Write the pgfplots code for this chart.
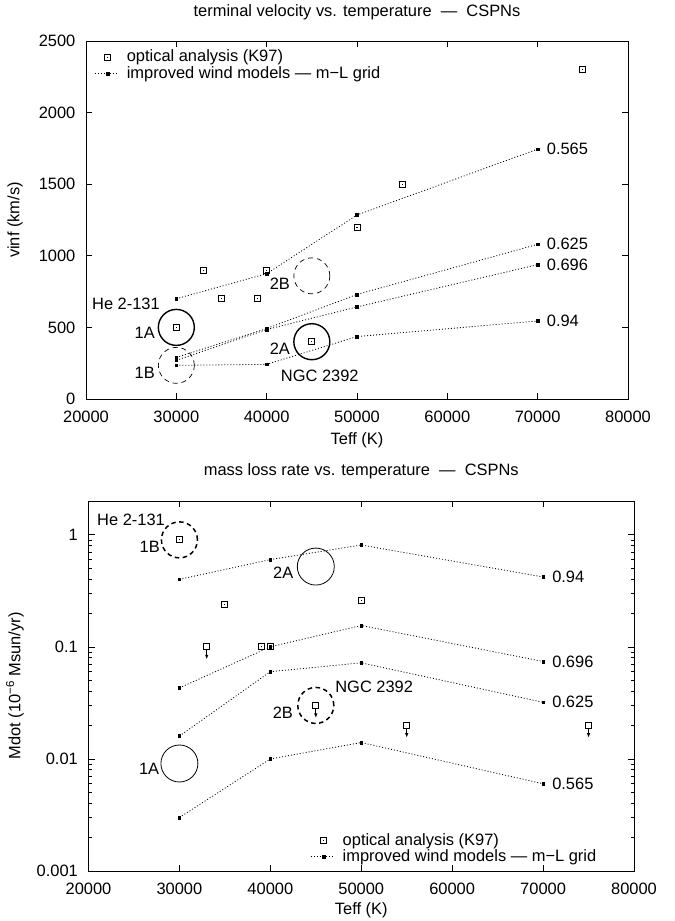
\documentclass[border=0pt]{standalone}
\usepackage{pgfplots}
\pgfplotsset{compat=1.18}
\usepackage{fontspec}
\setmainfont{Liberation Sans}

\pgfdeclareplotmark{sqdot}{%
  \pgfpathrectangle{\pgfpoint{-3bp}{-3bp}}{\pgfpoint{6bp}{6bp}}%
  \pgfusepathqstroke
  \pgfpathrectangle{\pgfpoint{-0.6bp}{-0.6bp}}{\pgfpoint{1.2bp}{1.2bp}}%
  \pgfusepathqfill}
\pgfdeclareplotmark{sqarrow}{%
  \pgfpathrectangle{\pgfpoint{-3bp}{-3bp}}{\pgfpoint{6bp}{6bp}}%
  \pgfusepathqstroke
  \pgfpathmoveto{\pgfpoint{0bp}{-3bp}}\pgfpathlineto{\pgfpoint{0bp}{-9bp}}%
  \pgfusepathqstroke
  \pgfpathmoveto{\pgfpoint{0bp}{-12bp}}\pgfpathlineto{\pgfpoint{-1.6bp}{-8bp}}%
  \pgfpathlineto{\pgfpoint{1.6bp}{-8bp}}\pgfpathclose
  \pgfusepathqfill}

\pgfplotsset{
  myaxis/.style={scale only axis, clip=false,
    xmin=20000, xmax=80000, xtick={20000,30000,40000,50000,60000,70000,80000},
    tick align=inside, major tick length=6bp, minor tick length=3bp,
    axis line style={line width=0.8bp},
    every tick/.style={black, line width=0.6bp},
    scaled x ticks=false, scaled y ticks=false,
    /pgf/number format/assume math mode=true,
    xticklabel style={/pgf/number format/fixed, /pgf/number format/1000 sep={}, yshift=-6bp},
    yticklabel style={/pgf/number format/fixed, /pgf/number format/1000 sep={}, xshift=-5bp},
    xlabel={Teff (K)},
    legend cell align=left,
  },
  model/.style={black, line width=0.8bp, dash pattern=on 1bp off 2bp,
    mark=square*, mark size=1.3bp, mark options={solid, line width=0.5bp},
    legend image code/.code={%
      \path[draw=none, fill=none] (0bp,-2bp) rectangle (32bp,2bp);
      \draw[line width=0.8bp, dash pattern=on 1bp off 2bp] (1bp,0bp) -- (24bp,0bp);
      \draw[line width=0.5bp, solid] plot[only marks, mark=square*, mark size=1.3bp] coordinates {(14bp,0bp)};}},
  opt/.style={only marks, mark=sqdot, mark options={black, solid, line width=0.8bp},
    legend image code/.code={%
      \path[draw=none, fill=none] (0bp,-2bp) rectangle (32bp,2bp);
      \draw[line width=0.8bp, solid] plot[only marks, mark=sqdot] coordinates {(14bp,0bp)};}},
}

\begin{document}
\fontsize{16.5}{19.8}\selectfont
\begin{tikzpicture}
\path[use as bounding box] (0bp,0bp) rectangle (675bp,921bp);

% ---------------- top: terminal velocity ----------------
\begin{axis}[myaxis, at={(86bp,522bp)}, anchor=south west,
  width=542bp, height=358bp,
  ymin=0, ymax=2500, ytick={0,500,1000,1500,2000,2500},
  ylabel={vinf (km/s)},
  ylabel style={at={(axis description cs:-0.131,0.5)}, anchor=center},
  xlabel style={at={(axis description cs:0.5,-0.1145)}, anchor=center},
  title={terminal velocity vs. temperature~~—~~CSPNs},
  title style={at={(axis description cs:0.5,1.064)}, anchor=center},
  legend style={draw=none, fill=none, at={(axis description cs:0.014,0.978)},
    anchor=north west, inner sep=0pt, row sep=0pt, nodes={inner sep=1bp}},
]
\addplot[opt] coordinates {(30000,500) (33000,900) (35000,700) (39000,700) (40000,900)
  (45000,400) (50000,1200) (55000,1500) (75000,2300)};
\addlegendentry{optical analysis (K97)}
\addplot[model] coordinates {(30000,700) (40000,875) (50000,1285) (70000,1745)};
\addlegendentry{improved wind models — m−L grid}
\addplot[model, forget plot] coordinates {(30000,290) (40000,492) (50000,730) (70000,1080)};
\addplot[model, forget plot] coordinates {(30000,270) (40000,485) (50000,643) (70000,938)};
\addplot[model, forget plot] coordinates {(30000,235) (40000,242) (50000,436) (70000,545)};
% highlight circles
\addplot[only marks, forget plot, mark=o, mark size=18bp,
  mark options={black, solid, line width=1.4bp}] coordinates {(30000,500) (45000,400)};
\addplot[only marks, forget plot, mark=o, mark size=18bp,
  mark options={black, line width=0.7bp, dash pattern=on 5bp off 4bp}] coordinates {(30000,235) (45000,860)};
% labels
\node[anchor=east, inner sep=0pt] at (axis cs:28190,666) {He 2-131};
\node[anchor=east, inner sep=0pt] at (axis cs:27640,461) {1A};
\node[anchor=east, inner sep=0pt] at (axis cs:27640,180) {1B};
\node[anchor=east, inner sep=0pt] at (axis cs:42590,808) {2B};
\node[anchor=east, inner sep=0pt] at (axis cs:42590,354) {2A};
\node[anchor=center, inner sep=0pt] at (axis cs:45880,161) {NGC 2392};
\node[anchor=west, inner sep=0pt, xshift=9bp] at (axis cs:70000,1745) {0.565};
\node[anchor=west, inner sep=0pt, xshift=9bp] at (axis cs:70000,1080) {0.625};
\node[anchor=west, inner sep=0pt, xshift=9bp] at (axis cs:70000,938) {0.696};
\node[anchor=west, inner sep=0pt, xshift=9bp] at (axis cs:70000,545) {0.94};
\end{axis}

% ---------------- bottom: mass loss rate ----------------
\begin{axis}[myaxis, at={(88.5bp,50bp)}, anchor=south west,
  width=545.5bp, height=370bp,
  ymode=log, ymin=0.001, ymax=2,
  ytick={0.001,0.01,0.1,1}, yticklabels={0.001,0.01,0.1,1},
  minor ytick={0.002,0.003,0.004,0.005,0.006,0.007,0.008,0.009,
    0.02,0.03,0.04,0.05,0.06,0.07,0.08,0.09,
    0.2,0.3,0.4,0.5,0.6,0.7,0.8,0.9},
  ylabel={Mdot (10\textsuperscript{−6} Msun/yr)},
  ylabel style={at={(axis description cs:-0.1347,0.5)}, anchor=center},
  xlabel style={at={(axis description cs:0.5,-0.1054)}, anchor=center},
  title={mass loss rate vs. temperature~~—~~CSPNs},
  title style={at={(axis description cs:0.5,1.065)}, anchor=center},
  legend style={draw=none, fill=none, at={(axis description cs:0.4052,0.016)},
    anchor=south west, inner sep=0pt, row sep=0pt, nodes={inner sep=1bp}},
]
\addplot[opt] coordinates {(30000,0.9) (35000,0.24) (39000,0.1) (40000,0.1) (50000,0.26)};
\addlegendentry{optical analysis (K97)}
\addplot[model] coordinates {(30000,0.40) (40000,0.60) (50000,0.81) (70000,0.42)};
\addlegendentry{improved wind models — m−L grid}
\addplot[model, forget plot] coordinates {(30000,0.043) (40000,0.10) (50000,0.155) (70000,0.074)};
\addplot[model, forget plot] coordinates {(30000,0.016) (40000,0.06) (50000,0.072) (70000,0.032)};
\addplot[model, forget plot] coordinates {(30000,0.003) (40000,0.01) (50000,0.014) (70000,0.006)};
% upper limits
\addplot[only marks, forget plot, mark=sqarrow, mark options={black, solid, line width=0.8bp}]
  coordinates {(33000,0.1) (45000,0.03) (55000,0.02) (75000,0.02)};
% highlight circles
\addplot[only marks, forget plot, mark=o, mark size=18.5bp,
  mark options={black, solid, line width=0.8bp}] coordinates {(45000,0.52) (30000,0.0091)};
\addplot[only marks, forget plot, mark=o, mark size=18bp,
  mark options={black, line width=1.5bp, dash pattern=on 4.5bp off 3.5bp}] coordinates {(30000,0.9) (45000,0.03)};
% labels
\node[anchor=east, inner sep=0pt] at (axis cs:28420,1.36) {He 2-131};
\node[anchor=east, inner sep=0pt] at (axis cs:27870,0.787) {1B};
\node[anchor=east, inner sep=0pt] at (axis cs:42540,0.461) {2A};
\node[anchor=west, inner sep=0pt] at (axis cs:47130,0.0437) {NGC 2392};
\node[anchor=east, inner sep=0pt] at (axis cs:42510,0.0258) {2B};
\node[anchor=east, inner sep=0pt] at (axis cs:27790,0.0081) {1A};
\node[anchor=west, inner sep=0pt, xshift=9bp] at (axis cs:70000,0.42) {0.94};
\node[anchor=west, inner sep=0pt, xshift=9bp] at (axis cs:70000,0.074) {0.696};
\node[anchor=west, inner sep=0pt, xshift=9bp] at (axis cs:70000,0.032) {0.625};
\node[anchor=west, inner sep=0pt, xshift=9bp] at (axis cs:70000,0.006) {0.565};
\end{axis}
\end{tikzpicture}
\end{document}
